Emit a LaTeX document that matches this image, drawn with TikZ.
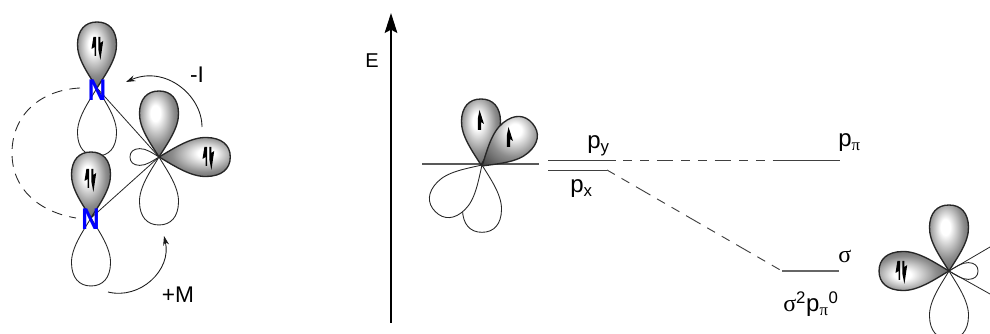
\documentclass[tikz,border=0pt]{standalone}
\usepackage{fontspec}
\setmainfont{Liberation Sans}
\newfontfamily\symf{Liberation Serif}
\usetikzlibrary{arrows.meta}
\pgfdeclareradialshading{lobeshade}{\pgfpoint{-5bp}{9bp}}{color(0bp)=(white); color(6bp)=(white); color(22bp)=(black!45); color(36bp)=(black!70); color(48bp)=(black!88); color(70bp)=(black)}
\tikzset{
  filledlobe/.style={draw=black!85,line width=1pt},
  emptylobe/.style={draw=black!85,line width=.65pt,fill=white},
  thin line/.style={draw=black!85,line width=.6pt},
  level/.style={draw=black!75,line width=.7pt},
  link/.style={level,dash pattern=on 6.75pt off 5.8pt on 6.75pt off 5.8pt on 12.5pt off 5.8pt,dash phase=37.7pt},
  link2/.style={level,dash pattern=on 6.75pt off 5.8pt on 6.75pt off 5.8pt on 12.5pt off 5.8pt},
  curly/.style={draw=black!90,line width=.65pt,-{Stealth[length=7pt,width=4.5pt]}},
  lab/.style={inner sep=0pt,font=\fontsize{18}{18}\selectfont}
}
\def\lobepath{(0,0) .. controls (-8,-13) and (-20,-29) .. (-19.5,-44) .. controls (-19.2,-58) and (-12,-66) .. (0,-66) .. controls (12,-66) and (19.2,-58) .. (19.5,-44) .. controls (20,-29) and (8,-13) .. (0,0) -- cycle}
% x, y, rotation, length scale
\newcommand{\fullobe}[4]{\begin{scope}[shift={(#1,#2)},rotate=#3,yscale=#4]
  \path[shading=lobeshade,shading angle=#3] \lobepath;
  \draw[filledlobe] \lobepath;
\end{scope}}
\newcommand{\emplobe}[5]{\begin{scope}[shift={(#1,#2)},rotate=#3,yscale=#4,xscale=#5]
  \path[emptylobe] \lobepath;
\end{scope}}
% half-headed spin arrows
\newcommand{\spinup}[2]{\fill[black,shift={(#1,#2)}] (-1.6,10) -- (-1.6,-2) -- (0,-10) -- (4.5,4) -- (1.6,2) -- (1.6,10) -- cycle;}
\newcommand{\spinpair}[2]{\fill[black,shift={(#1,#2)}] (-2.4,9) -- (-2.4,0) -- (-5.5,2) -- (-3.6,-10) -- (-.8,-10) -- (-.8,9) -- cycle
  (1.4,-10) -- (3.4,-10) -- (3.4,-4) -- (6.2,-6) -- (3.4,13) -- (1.4,3) -- cycle;}
\begin{document}
\begin{tikzpicture}[x=.75pt,y=-.75pt]
\useasboundingbox (0,0) rectangle (990,334);
\clip (0,0) rectangle (990,334);
\coordinate (n1) at (97,88);
\coordinate (n2) at (91,218);
\coordinate (c1) at (159,157);
\coordinate (c2) at (482,165);
\coordinate (c3) at (949,271);
% left
\coordinate (dashA) at (80,88);
\coordinate (dashB) at (76,218);
\draw[draw=black!85,line width=.65pt,dash pattern=on 8pt off 5.5pt] (dashA) .. controls (40,90) and (12,115) .. (12,153) .. controls (12,190) and (40,212) .. (dashB);
\emplobe{97}{88}{180}{1.03}{1}
\fullobe{97}{88}{0}{1}
\emplobe{91}{218}{180}{1.03}{1}
\fullobe{91}{218}{0}{1}
\draw[thin line] (n1) -- (c1);
\draw[thin line] (n2) -- (c1);
\emplobe{159}{157}{90}{.44}{.43}
\emplobe{159}{157}{180}{1.03}{1}
\fullobe{159}{157}{0}{1}
\fullobe{159}{157}{-90}{1.08}
\spinpair{97}{47}
\spinpair{90}{179}
\spinpair{208}{157}
\node[lab,text=blue] (N1) at (97,90) {\scalebox{.85}[1]{\fontsize{22.5}{22.5}\selectfont\bfseries N}};
\node[lab,text=blue] (N2) at (90.5,219) {\scalebox{.85}[1]{\fontsize{22.5}{22.5}\selectfont\bfseries N}};
\coordinate (iA) at (202,127);
\coordinate (iB) at (126,82);
\draw[curly] (iA) .. controls (202,95) and (165,65) .. (iB);
\coordinate (mA) at (108,292);
\coordinate (mB) at (164,236);
\draw[curly] (mA) .. controls (140,300) and (172,270) .. (mB);
\node[lab,font=\fontsize{17}{17}\selectfont] (minusI) at (197,75) {-I};
\node[lab,font=\fontsize{17}{17}\selectfont] (plusM) at (178,295) {+M};
% energy axis
\coordinate (axA) at (391,323);
\coordinate (axB) at (391,13);
\draw[black,line width=1.05pt,-{Stealth[length=15pt,width=9.5pt,inset=2.5pt]}] (axA) -- (axB);
\node[lab,font=\fontsize{15}{15}\selectfont] (E) at (372,61) {E};
% middle orbitals
\coordinate (hA) at (422,164);
\coordinate (hB) at (539,164);
\draw[draw=black!65,line width=.9pt] (hA) -- (hB);
\emplobe{482}{165}{180}{1.02}{1}
\emplobe{482}{165}{135}{1}{1}
\fullobe{481}{165}{0}{1}
\fullobe{482}{166}{-50}{1}
\spinup{479.5}{120}
\spinup{508.5}{137}
% levels
\coordinate (pyA) at (548,160);
\coordinate (pyB) at (615.7,160);
\coordinate (ppA) at (773,160);
\coordinate (ppB) at (840,160);
\coordinate (pxA) at (548,170);
\coordinate (pxB) at (607,170);
\coordinate (sA) at (782,271);
\coordinate (sB) at (839,271);
\draw[level] (pyA) -- (pyB);
\draw[level] (ppA) -- (ppB);
\draw[level] (pxA) -- (pxB);
\draw[draw=black!60,line width=.8pt] (sA) -- (sB);
\draw[link] (pyB) -- (ppA);
\draw[link2] (pxB) -- (sA);
\node[lab,anchor=base west] (py) at (587,149) {p\textsubscript{y}};
\node[lab,anchor=base west] (px) at (570,193) {p\textsubscript{x}};
\node[lab,anchor=base west] (pp) at (838,147) {p\textsubscript{{\symf π}}};
\node[lab,anchor=base west] (sig) at (838,263) {{\symf σ}};
\node[lab,anchor=base west] (conf) at (783,312) {{\symf σ}\textsuperscript{2}p\textsubscript{{\symf π}}\textsuperscript{0}};
% right orbitals
\coordinate (rA) at (990,247);
\coordinate (rB) at (990,294);
\emplobe{949}{271}{-90}{.44}{.43}
\draw[thin line] (c3) -- (rA);
\draw[thin line] (c3) -- (rB);
\emplobe{949}{271}{180}{1.03}{1}
\fullobe{949}{271}{0}{1}
\fullobe{949}{271}{90}{1.06}
\spinpair{901}{271}
\end{tikzpicture}
\end{document}
